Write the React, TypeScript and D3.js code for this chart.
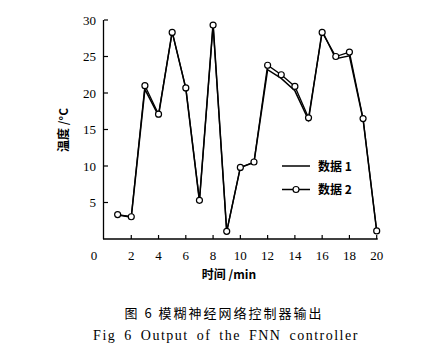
import React from "react";
import * as d3 from "d3";

const times = [1, 2, 3, 4, 5, 6, 7, 8, 9, 10, 11, 12, 13, 14, 15, 16, 17, 18, 19, 20];
const series1 = [3.3, 3.0, 20.5, 16.9, 28.4, 20.6, 5.2, 29.5, 1.0, 9.8, 10.5, 23.2, 22.0, 20.3, 16.3, 28.5, 24.7, 25.1, 16.4, 1.1];
const series2 = [3.35, 3.05, 21.0, 17.1, 28.3, 20.7, 5.3, 29.3, 1.05, 9.8, 10.55, 23.8, 22.5, 20.9, 16.6, 28.3, 25.0, 25.6, 16.5, 1.1];
const xTicks = [2, 4, 6, 8, 10, 12, 14, 16, 18, 20];
const yTicks = [5, 10, 15, 20, 25, 30];
const legendLabels = ["数据 1", "数据 2"];

const W = 448, H = 357;
const serif = "'Liberation Serif', 'DejaVu Serif', serif";
const cjk = "'Noto Sans CJK SC', sans-serif";

export default function App() {
  const x = d3.scaleLinear().domain([0, 20]).range([104, 376.7]);
  const y = d3.scaleLinear().domain([0, 30]).range([239, 20]);
  const line = d3.line<number>().x((_, i) => x(times[i])).y((d) => y(d));

  return (
    <svg width={W} height={H} style={{ position: "absolute", left: 0, top: 0, background: "#fff" }}>
      <rect width={W} height={H} fill="#fff" />
      {/* axes */}
      <line x1={x(0) - 0.5} x2={x(0) - 0.5} y1={y(30)} y2={y(0)} stroke="#000" strokeWidth={1.3} />
      <line x1={x(0) - 1} x2={x(20) + 1} y1={y(0)} y2={y(0)} stroke="#000" strokeWidth={1.3} />
      {yTicks.map((t) => (
        <g key={"y" + t}>
          <line x1={x(0)} x2={x(0) + 4} y1={y(t)} y2={y(t)} stroke="#000" strokeWidth={1.2} />
          <text x={96} y={y(t) + 4.5} textAnchor="end" fontFamily={serif} fontSize={13} fill="#000">{t}</text>
        </g>
      ))}
      {xTicks.map((t) => (
        <g key={"x" + t}>
          <line x1={x(t)} x2={x(t)} y1={y(0)} y2={y(0) - 4} stroke="#000" strokeWidth={1.2} />
          <text x={x(t)} y={259.5} textAnchor="middle" fontFamily={serif} fontSize={13} fill="#000">{t}</text>
        </g>
      ))}
      <text x={94} y={259.5} textAnchor="middle" fontFamily={serif} fontSize={13} fill="#000">0</text>

      {/* axis titles */}
      <text transform={`translate(68,130) rotate(-90)`} textAnchor="middle" fontFamily={cjk} fontSize={12} fontWeight="bold" fill="#000">温度 /°C</text>
      <text x={229} y={279} textAnchor="middle" fontFamily={cjk} fontSize={12} fontWeight="bold" fill="#000">时间 /min</text>

      {/* series */}
      <path d={line(series1) || ""} fill="none" stroke="#000" strokeWidth={1.5} />
      <path d={line(series2) || ""} fill="none" stroke="#000" strokeWidth={1.3} />
      {series2.map((v, i) => (
        <circle key={i} cx={x(times[i])} cy={y(v)} r={3} fill="#fff" stroke="#000" strokeWidth={1.2} />
      ))}

      {/* legend */}
      <line x1={282} x2={310} y1={166} y2={166} stroke="#000" strokeWidth={1.5} />
      <text x={318} y={170.5} fontFamily={cjk} fontSize={12} fontWeight="bold" fill="#000">{legendLabels[0]}</text>
      <line x1={282} x2={310} y1={189.5} y2={189.5} stroke="#000" strokeWidth={1.5} />
      <circle cx={296} cy={189.5} r={3} fill="#fff" stroke="#000" strokeWidth={1.2} />
      <text x={318} y={194} fontFamily={cjk} fontSize={12} fontWeight="bold" fill="#000">{legendLabels[1]}</text>

      {/* captions */}
      <text x={224} y={318} textAnchor="middle" fontFamily={cjk} fontSize={13} fill="#000" style={{ letterSpacing: "2px" }}>图 6 模糊神经网络控制器输出</text>
      <text x={226} y={340} textAnchor="middle" fontFamily={serif} fontSize={14} fill="#000" style={{ letterSpacing: "1.5px", wordSpacing: "3px" }}>Fig 6 Output of the FNN controller</text>
    </svg>
  );
}
